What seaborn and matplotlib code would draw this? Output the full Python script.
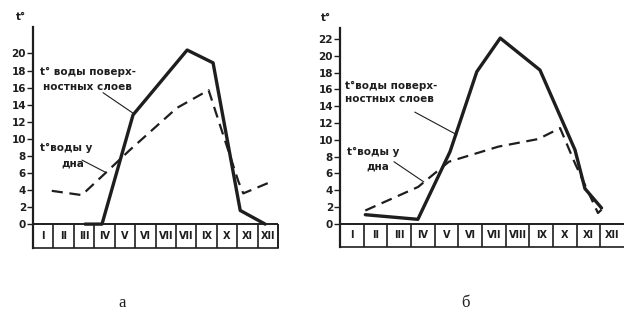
import numpy as np
import pandas as pd
import matplotlib
matplotlib.use("Agg")
import matplotlib.pyplot as plt
import seaborn as sns

# months (Roman numerals) and the two panels' curves
bulan = ['I', 'II', 'III', 'IV', 'V', 'VI', 'VII', 'VIII', 'IX', 'X', 'XI', 'XII']
bulan_a = ['I', 'II', 'III', 'IV', 'V', 'VI', 'VII', 'VII', 'IX', 'X', 'XI', 'XII']

# panel a  (x in month units, 0..12)
a_surf_x = [2.55, 3.38, 4.9, 7.55, 8.82, 10.15, 11.37]
a_surf_y = [0.0, 0.0, 12.8, 20.4, 18.9, 1.6, 0.0]
a_bot_x = [0.92, 2.39, 3.6, 4.75, 7.04, 8.6, 10.06, 10.3, 11.5]
a_bot_y = [3.9, 3.4, 6.1, 8.7, 13.6, 15.7, 5.0, 3.6, 4.8]

# panel б
b_surf_x = [1.07, 3.29, 4.65, 5.78, 6.77, 8.45, 9.93, 10.35, 11.05]
b_surf_y = [1.1, 0.55, 8.6, 18.1, 22.1, 18.3, 8.8, 4.2, 1.9]
b_bot_x = [1.07, 3.3, 4.6, 6.7, 8.38, 9.3, 9.93, 10.9, 11.05]
b_bot_y = [1.6, 4.4, 7.4, 9.2, 10.1, 11.4, 7.2, 1.3, 1.7]

sns.set_style('white')
plt.rcParams['font.family'] = ['DejaVu Sans']

W, H = 624, 313
fig = plt.figure(figsize=(W / 100, H / 100), dpi=100)
warna = '#1e1e1e'


def panel(rect, sx, sy, bx, by, ytop, ybot, yticks, labels, xmax_box):
    ax = fig.add_axes(rect)
    df_s = pd.DataFrame({'bulan': sx, 't': sy})
    df_b = pd.DataFrame({'bulan': bx, 't': by})
    sns.lineplot(data=df_s, x='bulan', y='t', ax=ax, color=warna, lw=2.4,
                 sort=False, estimator=None)
    sns.lineplot(data=df_b, x='bulan', y='t', ax=ax, color=warna, lw=1.6,
                 sort=False, estimator=None, linestyle=(0, (5, 3)))
    ax.set_xlim(0, 12)
    ax.set_ylim(ybot, ytop)
    ax.set_xlabel('')
    ax.set_ylabel('')
    ax.set_xticks([])
    ax.set_yticks(yticks)
    ax.set_yticklabels([str(v) for v in yticks], fontsize=7.5,
                       fontweight='bold', color=warna)
    ax.tick_params(axis='y', direction='out', length=4, width=1,
                   pad=1, colors=warna, left=True)
    for s in ['top', 'right']:
        ax.spines[s].set_visible(False)
    ax.spines['left'].set_linewidth(1.6)
    ax.spines['left'].set_color(warna)
    ax.spines['bottom'].set_linewidth(1.2)
    ax.spines['bottom'].set_color(warna)
    # month box
    ax.axhline(0, color=warna, lw=1.4)
    ax.vlines(range(1, 12), ybot, 0, color=warna, lw=1.2)
    if xmax_box:
        ax.vlines(12, ybot, 0, color=warna, lw=1.4, clip_on=False)
    for i, m in enumerate(labels):
        ax.text(i + 0.5, ybot / 2, m, ha='center', va='center',
                fontsize=7, fontweight='bold', color=warna)
    ax.text(-0.6, ytop + 0.6, 't°', ha='center', va='bottom', fontsize=7.5,
            fontweight='bold', color=warna, clip_on=False)
    return ax


# panel a: px x 33..278, y 27..248
ax1 = panel([33 / W, 1 - 248 / H, 245 / W, 221 / H],
            a_surf_x, a_surf_y, a_bot_x, a_bot_y,
            23.1, -2.8, list(range(0, 21, 2)), bulan_a, True)
ax1.text(0.34, 17.8, 't° воды поверх-', fontsize=7.5, fontweight='bold',
         va='center', ha='left', color=warna)
ax1.text(0.5, 16.1, 'ностных слоев', fontsize=7.5, fontweight='bold',
         va='center', ha='left', color=warna)
ax1.plot([3.43, 4.9], [15.4, 13.0], color=warna, lw=0.8)
ax1.text(0.34, 8.9, 't°воды у', fontsize=7.5, fontweight='bold',
         va='center', ha='left', color=warna)
ax1.text(1.96, 7.15, 'дна', fontsize=7.5, fontweight='bold',
         va='center', ha='center', color=warna)
ax1.plot([2.4, 3.53], [7.5, 6.1], color=warna, lw=0.8)

# panel б: px x 340..624, y 28..247
ax2 = panel([340 / W, 1 - 247 / H, 284 / W, 219 / H],
            b_surf_x, b_surf_y, b_bot_x, b_bot_y,
            23.3, -2.74, list(range(0, 23, 2)), bulan, False)
ax2.text(0.21, 16.4, 't°воды поверх-', fontsize=7.5, fontweight='bold',
         va='center', ha='left', color=warna)
ax2.text(0.21, 14.8, 'ностных слоев', fontsize=7.5, fontweight='bold',
         va='center', ha='left', color=warna)
ax2.plot([3.16, 4.94], [13.3, 10.6], color=warna, lw=0.8)
ax2.text(0.3, 8.6, 't°воды у', fontsize=7.5, fontweight='bold',
         va='center', ha='left', color=warna)
ax2.text(1.6, 6.8, 'дна', fontsize=7.5, fontweight='bold',
         va='center', ha='center', color=warna)
ax2.plot([2.28, 3.54], [7.4, 5.0], color=warna, lw=0.8)

fig.text(122 / W, 1 - 303 / H, 'а', family='Liberation Serif', fontsize=12,
         ha='center', va='center', color=warna)
fig.text(465 / W, 1 - 303 / H, 'б', family='Liberation Serif', fontsize=12,
         ha='center', va='center', color=warna)

plt.savefig('out.png', dpi=100, facecolor='white')
